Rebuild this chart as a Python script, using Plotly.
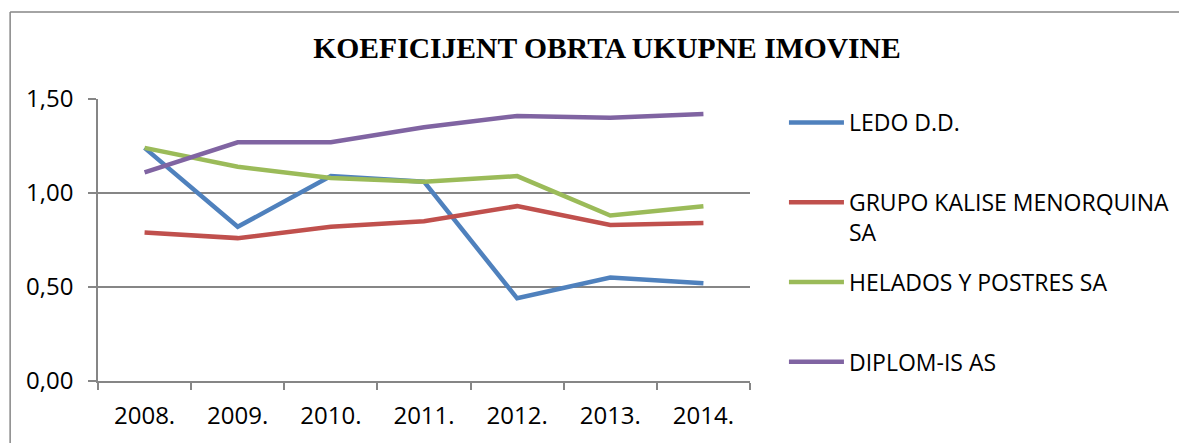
import plotly.graph_objects as go

years = ["2008.", "2009.", "2010.", "2011.", "2012.", "2013.", "2014."]
ledo = [1.24, 0.82, 1.09, 1.06, 0.44, 0.55, 0.52]
grupo = [0.79, 0.76, 0.82, 0.85, 0.93, 0.83, 0.84]
helados = [1.24, 1.14, 1.08, 1.06, 1.09, 0.88, 0.93]
diplom = [1.11, 1.27, 1.27, 1.35, 1.41, 1.40, 1.42]

series_names = ["LEDO D.D.<br>&nbsp;", "GRUPO KALISE MENORQUINA<br>SA",
                "HELADOS Y POSTRES SA<br>&nbsp;", "DIPLOM-IS AS"]
series_values = [ledo, grupo, helados, diplom]
colors = ["#4F81BD", "#C0504D", "#9BBB59", "#8064A2"]

fig = go.Figure()
for i, (name, vals, col) in enumerate(zip(series_names, series_values, colors)):
    fig.add_trace(go.Scatter(
        x=years, y=vals, mode="lines", name=name,
        line=dict(color=col, width=4.5), legendgroup=f"g{i}",
    ))

# page has an 8px body margin; figure coordinates are screen minus 8
W, H = 1179, 435
L, R, T, B = 90, 743, 91, 376
pw, ph = R - L, B - T

fig.update_layout(
    width=W, height=H,
    margin=dict(l=L, r=W - R, t=T, b=H - B),
    paper_bgcolor="white", plot_bgcolor="white",
    separators=",.",
    font=dict(family="Open Sans", size=23, color="black"),
    title=dict(
        text="<b>KOEFICIJENT OBRTA UKUPNE IMOVINE</b>",
        font=dict(family="Liberation Serif", size=29.6, color="black"),
        x=599 / W, xanchor="center", xref="container",
        y=1 - 40 / H, yanchor="middle", yref="container",
    ),
    showlegend=True,
    legend=dict(
        x=(777 - L) / pw, xanchor="left",
        y=(B - 93) / ph, yanchor="top",
        font=dict(family="Open Sans", size=23, color="black"),
        tracegroupgap=17, valign="top", bgcolor="rgba(0,0,0,0)",
        itemwidth=55, maxheight=420,
    ),
    xaxis=dict(
        type="category", range=[-0.5, 6.5], showgrid=False, showline=True,
        linecolor="#868686", linewidth=1.5,
        ticks="outside", tickson="boundaries", ticklen=7,
        tickcolor="#868686", tickwidth=1.5, ticklabelstandoff=12,
        tickfont=dict(family="Open Sans", size=24, color="black"),
    ),
    yaxis=dict(
        range=[0, 1.5], tickvals=[0, 0.5, 1.0, 1.5], tickformat=".2f",
        showgrid=True, gridcolor="#868686", gridwidth=1.5,
        showline=True, linecolor="#868686", linewidth=1.5,
        ticks="outside", ticklen=8, tickcolor="#868686", tickwidth=1.5,
        ticklabelstandoff=10, zeroline=False,
        tickfont=dict(family="Open Sans", size=24, color="black"),
    ),
)

# chart-area border (left and top edges visible in the reference)
fig.add_shape(type="line", xref="paper", yref="paper",
              x0=(2 - L) / pw, x1=(2 - L) / pw, y0=(B - 3) / ph, y1=(B - 460) / ph,
              line=dict(color="#868686", width=1.5))
fig.add_shape(type="line", xref="paper", yref="paper",
              x0=(2 - L) / pw, x1=(1200 - L) / pw, y0=(B - 3) / ph, y1=(B - 3) / ph,
              line=dict(color="#868686", width=1.5))

fig.write_html("out.html")
